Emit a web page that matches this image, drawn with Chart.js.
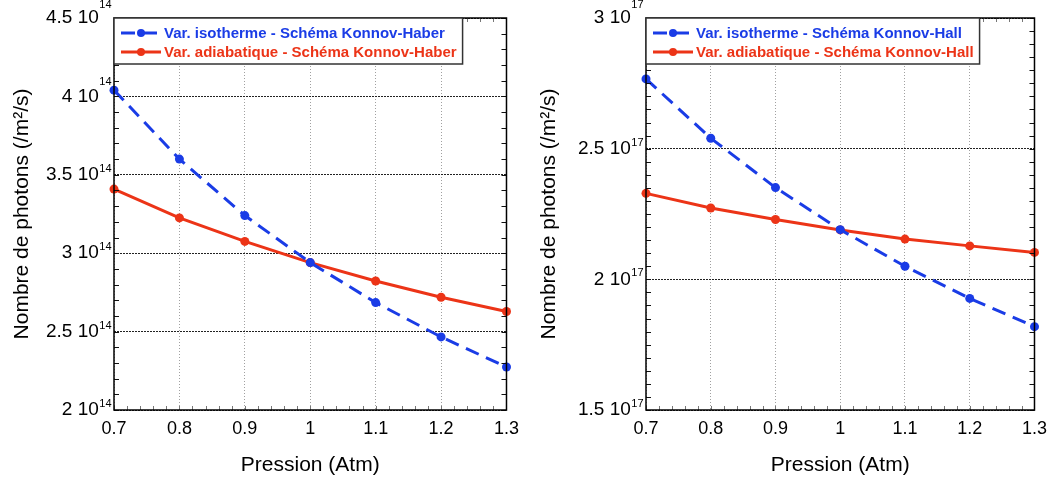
<!DOCTYPE html>
<html>
<head>
<meta charset="utf-8">
<script src="https://cdn.jsdelivr.net/npm/chart.js@4/dist/chart.umd.min.js"></script>
<style>
  html, body { margin: 0; padding: 0; background: #fff; }
  #wrap { display: flex; width: 1055px; height: 480px; }
  #wrap div { position: relative; height: 480px; }
</style>
</head>
<body>
<div id="wrap">
  <div style="width:527px"><canvas id="left"></canvas></div>
  <div style="width:528px"><canvas id="right"></canvas></div>
</div>
<script>
// data
const pressions = [0.7, 0.8, 0.9, 1.0, 1.1, 1.2, 1.3];

const haberIso = [4.04e14, 3.60e14, 3.24e14, 2.94e14, 2.685e14, 2.466e14, 2.274e14];
const haberAdia = [3.409e14, 3.225e14, 3.075e14, 2.94e14, 2.823e14, 2.719e14, 2.628e14];

const hallIso = [2.767e17, 2.54e17, 2.351e17, 2.19e17, 2.05e17, 1.927e17, 1.819e17];
const hallAdia = [2.329e17, 2.273e17, 2.229e17, 2.189e17, 2.154e17, 2.128e17, 2.103e17];

const leftMantissa = ['2', '2.5', '3', '3.5', '4', '4.5'];
const rightMantissa = ['1.5', '2', '2.5', '3'];

const BLUE = '#1a3ce6';
const RED = '#ec3417';
const FONT = '"Liberation Sans", Arial, Helvetica, sans-serif';

// frame, minor ticks, legend and 10^n tick labels
const framePlugin = {
  id: 'frame',
  afterDatasetsDraw(chart, args, opts) {
    const ctx = chart.ctx;
    const a = chart.chartArea;
    const xs = chart.scales.x, ys = chart.scales.y;
    ctx.save();

    // minor ticks y
    ctx.strokeStyle = '#111';
    ctx.lineWidth = 1;
    ctx.beginPath();
    const ny = Math.round((ys.max - ys.min) / opts.yMinor);
    for (let i = 0; i <= ny; i++) {
      const y = Math.round(ys.getPixelForValue(ys.min + i * opts.yMinor)) + 0.5;
      ctx.moveTo(a.left, y); ctx.lineTo(a.left + 5, y);
      ctx.moveTo(a.right, y); ctx.lineTo(a.right - 5, y);
    }
    ctx.stroke();

    // minor ticks x
    ctx.strokeStyle = '#777';
    ctx.beginPath();
    const nx = Math.round((xs.max - xs.min) / 0.02);
    for (let i = 0; i <= nx; i++) {
      const x = Math.round(xs.getPixelForValue(xs.min + i * 0.02)) + 0.5;
      ctx.moveTo(x, a.bottom); ctx.lineTo(x, a.bottom - 4);
      ctx.moveTo(x, a.top); ctx.lineTo(x, a.top + 4);
    }
    ctx.stroke();

    // box
    ctx.strokeStyle = '#000';
    ctx.lineWidth = 1.5;
    ctx.strokeRect(a.left, a.top, a.right - a.left, a.bottom - a.top);

    // legend
    ctx.font = 'bold 15px ' + FONT;
    const ds = chart.data.datasets;
    let tw = 0;
    ds.forEach(d => { tw = Math.max(tw, ctx.measureText(d.label).width); });
    const lx = a.left, ly = a.top;
    const lw = 50 + tw + 6, lh = 46;
    ctx.fillStyle = '#fff';
    ctx.fillRect(lx, ly, lw, lh);
    ctx.strokeStyle = '#333';
    ctx.lineWidth = 1.5;
    ctx.strokeRect(lx, ly, lw, lh);
    ds.forEach((d, i) => {
      const y = ly + 15 + i * 19;
      ctx.strokeStyle = d.borderColor;
      ctx.lineWidth = 3;
      ctx.setLineDash(d.borderDash || []);
      ctx.beginPath();
      ctx.moveTo(lx + 7, y); ctx.lineTo(lx + 47, y);
      ctx.stroke();
      ctx.setLineDash([]);
      ctx.fillStyle = d.borderColor;
      ctx.beginPath();
      ctx.arc(lx + 27, y, 4, 0, Math.PI * 2);
      ctx.fill();
      ctx.textBaseline = 'middle';
      ctx.textAlign = 'left';
      ctx.fillText(d.label, lx + 50, y + 1);
    });

    // y tick labels with exponent
    ctx.fillStyle = '#000';
    ctx.textAlign = 'right';
    ys.ticks.forEach((t, i) => {
      const y = ys.getPixelForValue(t.value);
      ctx.font = '11px ' + FONT;
      const sup = String(opts.exp);
      const sw = ctx.measureText(sup).width;
      const xr = a.left - 2.5;
      const raise = opts.raise[i] || 0;
      ctx.textBaseline = 'alphabetic';
      ctx.fillText(sup, xr, y - 3 - raise);
      ctx.font = '19px ' + FONT;
      ctx.textBaseline = 'middle';
      ctx.fillText(opts.mantissa[i] + ' 10', xr - sw - 0.5, y);
    });

    ctx.restore();
  }
};

function makeChart(id, iso, adia, names, yMin, yMax, yStep, yMinor, exp, mantissa, raise, left, padRight) {
  return new Chart(document.getElementById(id), {
    type: 'line',
    data: {
      datasets: [
        {
          label: names[0],
          data: pressions.map((p, i) => ({ x: p, y: iso[i] })),
          borderColor: BLUE, backgroundColor: BLUE,
          borderWidth: 3, borderDash: [14, 8], clip: false,
          pointRadius: 4.5, pointBackgroundColor: BLUE, pointBorderWidth: 0
        },
        {
          label: names[1],
          data: pressions.map((p, i) => ({ x: p, y: adia[i] })),
          borderColor: RED, backgroundColor: RED,
          borderWidth: 3, clip: false,
          pointRadius: 4.5, pointBackgroundColor: RED, pointBorderWidth: 0
        }
      ]
    },
    options: {
      responsive: true,
      maintainAspectRatio: false,
      animation: false,
      layout: { padding: { left: 0, right: padRight, top: 18, bottom: 0 } },
      plugins: {
        legend: { display: false },
        tooltip: { enabled: false },
        frame: { yMinor: yMinor, exp: exp, mantissa: mantissa, raise: raise }
      },
      scales: {
        x: {
          type: 'linear',
          min: 0.7, max: 1.3,
          afterFit: s => { s.height = 70; },
          ticks: {
            stepSize: 0.1,
            padding: 8,
            color: '#000',
            font: { family: FONT, size: 18 },
            maxRotation: 0,
            callback: v => String(+v.toFixed(1))
          },
          grid: { color: '#a0a0a0', lineWidth: 1, drawTicks: false },
          border: { display: false, dash: [1, 2] },
          title: {
            display: true, text: 'Pression (Atm)', color: '#000',
            font: { family: FONT, size: 21 },
            padding: { top: 0, bottom: 2 }
          }
        },
        y: {
          min: yMin, max: yMax,
          afterFit: s => { s.width = left; },
          ticks: { stepSize: yStep, display: false },
          grid: { color: '#222', lineWidth: 1, drawTicks: false },
          border: { display: false, dash: [2, 1] },
          title: {
            display: true, text: 'Nombre de photons (/m²/s)', color: '#000',
            font: { family: FONT, size: 21 },
            padding: { top: 10, bottom: 0 }
          }
        }
      }
    },
    plugins: [framePlugin]
  });
}

makeChart('left', haberIso, haberAdia,
  ['Var. isotherme - Schéma Konnov-Haber', 'Var. adiabatique - Schéma Konnov-Haber'],
  2e14, 4.5e14, 0.5e14, 0.1e14, 14, leftMantissa, [0, 0, 0, 0, 8, 7], 114, 19);

makeChart('right', hallIso, hallAdia,
  ['Var. isotherme - Schéma Konnov-Hall', 'Var. adiabatique - Schéma Konnov-Hall'],
  1.5e17, 3e17, 0.5e17, 0.05e17, 17, rightMantissa, [0, 0, 0, 7], 119, 20);
</script>
</body>
</html>
